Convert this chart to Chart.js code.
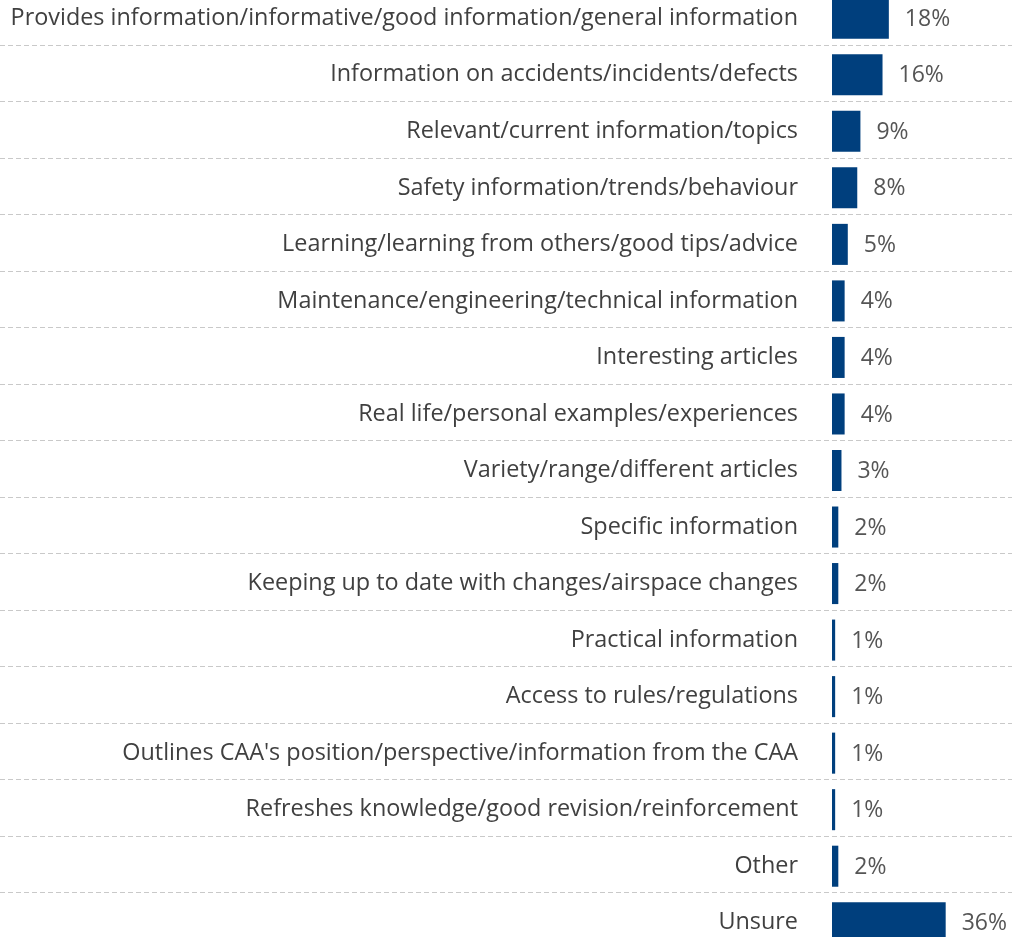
<!DOCTYPE html>
<html>
<head>
<meta charset="utf-8">
<script src="https://cdn.jsdelivr.net/npm/chart.js@4"></script>
<style>
  html, body { margin: 0; padding: 0; background: #fff; overflow: hidden; }
  #barChart { display: block; margin-top: -10px; }
</style>
</head>
<body>
<canvas id="barChart" width="1012" height="961"></canvas>
<script>
const categories = [
    'Provides information/informative/good information/general information',
    'Information on accidents/incidents/defects',
    'Relevant/current information/topics',
    'Safety information/trends/behaviour',
    'Learning/learning from others/good tips/advice',
    'Maintenance/engineering/technical information',
    'Interesting articles',
    'Real life/personal examples/experiences',
    'Variety/range/different articles',
    'Specific information',
    'Keeping up to date with changes/airspace changes',
    'Practical information',
    'Access to rules/regulations',
    "Outlines CAA's position/perspective/information from the CAA",
    'Refreshes knowledge/good revision/reinforcement',
    'Other',
    'Unsure'
];
const percentages = [18, 16, 9, 8, 5, 4, 4, 4, 3, 2, 2, 1, 1, 1, 1, 2, 36];

const fontFamily = '"Open Sans", "Noto Sans", sans-serif';

// dashed separators across the whole width, between categories
const separators = {
    id: 'separators',
    beforeDatasetsDraw(chart) {
        const ctx = chart.ctx;
        const y = chart.scales.y;
        ctx.save();
        ctx.strokeStyle = '#c9c9c9';
        ctx.lineWidth = 1;
        ctx.setLineDash([5, 3]);
        for (let i = 1; i < categories.length; i++) {
            const pos = Math.round((y.getPixelForValue(i - 1) + y.getPixelForValue(i)) / 2) - 1.5;
            ctx.beginPath();
            ctx.moveTo(0, pos);
            ctx.lineTo(chart.width, pos);
            ctx.stroke();
        }
        ctx.restore();
    }
};

// value labels to the right of each bar
const valueLabels = {
    id: 'valueLabels',
    afterDatasetsDraw(chart) {
        const ctx = chart.ctx;
        const meta = chart.getDatasetMeta(0);
        ctx.save();
        ctx.fillStyle = '#555555';
        ctx.font = '23px ' + fontFamily;
        ctx.textBaseline = 'middle';
        ctx.textAlign = 'left';
        meta.data.forEach((bar, i) => {
            ctx.fillText(percentages[i] + '%', bar.x + 16, bar.y + 1);
        });
        ctx.restore();
    }
};

new Chart(document.getElementById('barChart').getContext('2d'), {
    type: 'bar',
    data: {
        labels: categories,
        datasets: [{
            data: percentages,
            backgroundColor: '#003f7d',
            borderWidth: 0,
            categoryPercentage: 1,
            barPercentage: 0.726
        }]
    },
    options: {
        indexAxis: 'y',
        responsive: false,
        animation: false,
        layout: { padding: 0 },
        plugins: {
            legend: { display: false },
            tooltip: { enabled: false }
        },
        scales: {
            x: {
                display: false,
                min: 0,
                max: 57
            },
            y: {
                grid: { display: false, drawTicks: false },
                border: { display: false },
                afterFit: function (scale) {
                    scale.width = 832;
                    // tick padding also adds space above/below, drop it
                    scale.paddingTop = 0;
                    scale.paddingBottom = 0;
                },
                ticks: {
                    padding: 34,
                    color: '#404040',
                    font: { size: 23.4, family: fontFamily }
                }
            }
        }
    },
    plugins: [separators, valueLabels]
});
</script>
</body>
</html>
